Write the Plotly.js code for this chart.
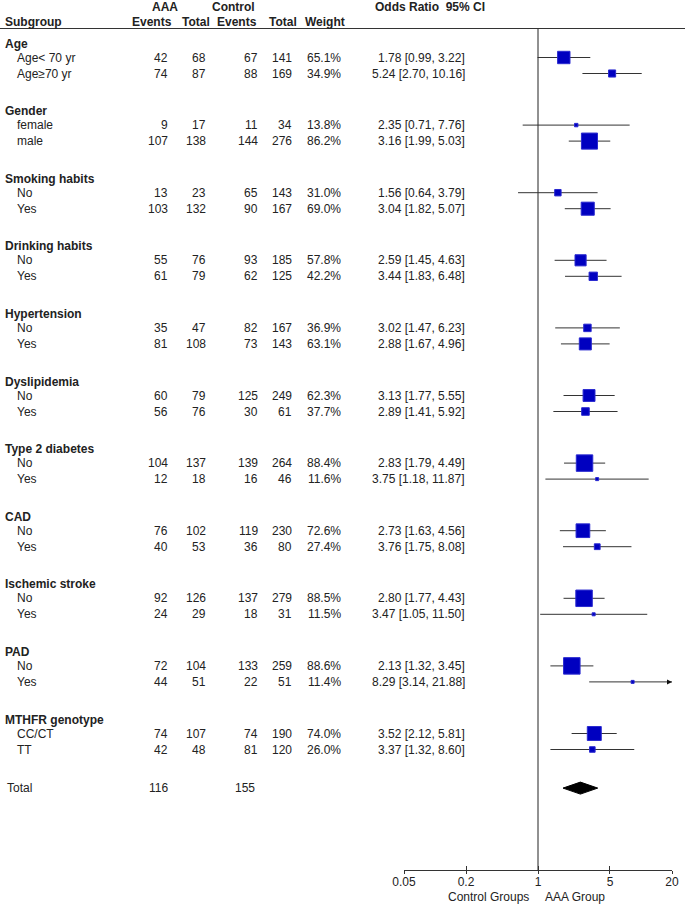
<!DOCTYPE html>
<html><head><meta charset="utf-8">
<script src="https://cdn.plot.ly/plotly-3.0.1.min.js"></script>
<style>html,body{margin:0;padding:0;background:#fff}</style>
</head><body><div id="chart" style="width:685px;height:905px"></div>
<script>
// ---------------- data ----------------
const groupNames = ["Age","Gender","Smoking habits","Drinking habits","Hypertension","Dyslipidemia","Type 2 diabetes","CAD","Ischemic stroke","PAD","MTHFR genotype"];
const rowLabels = ["Age< 70 yr","Age\u226570 yr","female","male","No","Yes","No","Yes","No","Yes","No","Yes","No","Yes","No","Yes","No","Yes","No","Yes","CC/CT","TT"];
const rowGroup  = [0,0,1,1,2,2,3,3,4,4,5,5,6,6,7,7,8,8,9,9,10,10];
const aaaEvents  = [42,74,9,107,13,103,55,61,35,81,60,56,104,12,76,40,92,24,72,44,74,42];
const aaaTotal   = [68,87,17,138,23,132,76,79,47,108,79,76,137,18,102,53,126,29,104,51,107,48];
const ctrlEvents = [67,88,11,144,65,90,93,62,82,73,125,30,139,16,119,36,137,18,133,22,74,81];
const ctrlTotal  = [141,169,34,276,143,167,185,125,167,143,249,61,264,46,230,80,279,31,259,51,190,120];
const weights    = [65.1,34.9,13.8,86.2,31.0,69.0,57.8,42.2,36.9,63.1,62.3,37.7,88.4,11.6,72.6,27.4,88.5,11.5,88.6,11.4,74.0,26.0];
const orVals     = [1.78,5.24,2.35,3.16,1.56,3.04,2.59,3.44,3.02,2.88,3.13,2.89,2.83,3.75,2.73,3.76,2.80,3.47,2.13,8.29,3.52,3.37];
const ciLow      = [0.99,2.70,0.71,1.99,0.64,1.82,1.45,1.83,1.47,1.67,1.77,1.41,1.79,1.18,1.63,1.75,1.77,1.05,1.32,3.14,2.12,1.32];
const ciHigh     = [3.22,10.16,7.76,5.03,3.79,5.07,4.63,6.48,6.23,4.96,5.55,5.92,4.49,11.87,4.56,8.08,4.43,11.50,3.45,21.88,5.81,8.60];
const totalLabel = "Total";
const totalAAAEvents = 116;
const totalCtrlEvents = 155;
const pooledOR = 2.58, pooledLow = 1.75, pooledHigh = 3.80;
const tickVals = [0.05,0.2,1,5,20];
const tickText = ["0.05","0.2","1","5","20"];
const xMin = 0.05, xMax = 20;

// ---------------- geometry ----------------
const W = 685, H = 905, plotH = 870;
const FONT = "Liberation Sans, Arial, sans-serif";
const TXT = "#222";
const px = v => v / W;              // pixel x -> paper
const py = v => 1 - v / plotH;      // pixel y -> paper (above plot bottom)
const groupTop = g => 43.5 + g * 67.6;
const withinIdx = rowGroup.map((g, i) => rowGroup.slice(0, i).filter(x => x === g).length);
const rowY = rowGroup.map((g, i) => groupTop(g) + 14 + 16 * withinIdx[i]);
const totalY = groupTop(groupNames.length) + 1;
const headerLineY = 28.5;

// ---------------- annotations ----------------
const ann = [];
function t(x, y, text, anchor, bold, yref) {
  ann.push({x: px(x), xref: "paper", y: y, yref: yref || "y", text: bold ? "<b>" + text + "</b>" : text,
    showarrow: false, xanchor: anchor, yanchor: "middle", font: {family: FONT, size: 12, color: TXT}});
}
// headers
t(150, py(7), "AAA", "left", true, "paper");
t(210, py(7), "Control", "left", true, "paper");
t(373, py(7), "Odds Ratio&nbsp;&nbsp;95% CI", "left", true, "paper");
t(3, py(22), "Subgroup", "left", true, "paper");
t(130, py(22), "Events", "left", true, "paper");
t(180, py(22), "Total", "left", true, "paper");
t(215, py(22), "Events", "left", true, "paper");
t(267, py(22), "Total", "left", true, "paper");
t(303, py(22), "Weight", "left", true, "paper");

groupNames.forEach((g, i) => t(3, groupTop(i), g, "left", true));
rowLabels.forEach((lab, i) => {
  const y = rowY[i];
  t(15, y, lab, "left");
  t(170, y, String(aaaEvents[i]), "right");
  t(208, y, String(aaaTotal[i]), "right");
  t(260, y, String(ctrlEvents[i]), "right");
  t(294, y, String(ctrlTotal[i]), "right");
  t(343, y, weights[i].toFixed(1) + "%", "right");
  t(467, y, orVals[i].toFixed(2) + " [" + ciLow[i].toFixed(2) + ", " + ciHigh[i].toFixed(2) + "]", "right");
});
t(5, totalY, totalLabel, "left");
t(170, totalY, String(totalAAAEvents), "right");
t(257, totalY, String(totalCtrlEvents), "right");
t(531, py(897.5), "Control Groups", "right", false, "paper");
t(543, py(897.5), "AAA Group", "left", false, "paper");

// ---------------- traces ----------------
const ciX = [], ciY = [];
rowLabels.forEach((_, i) => {
  ciX.push(Math.max(ciLow[i], xMin), Math.min(ciHigh[i], xMax), null);
  ciY.push(rowY[i], rowY[i], null);
});
const arrowX = [], arrowY = [];
rowLabels.forEach((_, i) => { if (ciHigh[i] > xMax) { arrowX.push(xMax); arrowY.push(rowY[i]); } });

const traces = [
  {x: [1, 1], y: [headerLineY, plotH], mode: "lines", line: {color: "#222", width: 1}, hoverinfo: "skip"},
  {x: ciX, y: ciY, mode: "lines", line: {color: "#333", width: 1}, hoverinfo: "skip"},
  {x: orVals, y: rowY, mode: "markers", hoverinfo: "skip",
   marker: {symbol: "square", opacity: 1, size: weights.map(w => 0.175 * w + 1), color: "#0000c0", line: {color: "#2a2ad0", width: 1}}},
  {x: arrowX, y: arrowY, mode: "markers", hoverinfo: "skip",
   marker: {symbol: "arrow-right", opacity: 1, size: 5, color: "#111", line: {width: 0}}},
  {x: [pooledLow, pooledOR, pooledHigh, pooledOR, pooledLow], y: [totalY, totalY - 6, totalY, totalY + 6, totalY],
   mode: "lines", fill: "toself", fillcolor: "#000", line: {color: "#000", width: 1}, hoverinfo: "skip"}
];

const layout = {
  width: W, height: H, showlegend: false,
  margin: {l: 0, r: 0, t: 0, b: H - plotH, pad: 0},
  paper_bgcolor: "#fff", plot_bgcolor: "rgba(0,0,0,0)",
  font: {family: FONT, size: 12, color: TXT},
  xaxis: {type: "log", domain: [px(404), px(672)], range: [Math.log10(xMin), Math.log10(xMax)],
    tickvals: tickVals, ticktext: tickText, ticks: "outside", ticklen: 3, tickcolor: "#333", tickwidth: 1,
    ticklabelstandoff: -2,
    showline: true, linecolor: "#333", linewidth: 1, showgrid: false, zeroline: false,
    tickfont: {family: FONT, size: 12, color: TXT}, fixedrange: true},
  xaxis2: {type: "log", overlaying: "x", anchor: "y", side: "bottom", domain: [px(404), px(672)],
    range: [Math.log10(xMin), Math.log10(xMax)], tickvals: tickVals, ticks: "inside", ticklen: 4,
    tickcolor: "#333", tickwidth: 1, showticklabels: false, showgrid: false, zeroline: false, showline: false},
  yaxis: {range: [plotH, 0], visible: false, showgrid: false, zeroline: false, fixedrange: true},
  shapes: [{type: "line", xref: "paper", yref: "y", x0: 0, x1: 1, y0: headerLineY, y1: headerLineY,
    line: {color: "#333", width: 1}}],
  annotations: ann
};
// invisible point that activates the overlaid tick axis
traces.push({x: [1], y: [0], xaxis: "x2", mode: "markers", marker: {opacity: 0}, hoverinfo: "skip"});

Plotly.newPlot("chart", traces, layout, {staticPlot: true, displayModeBar: false});
</script>
</body></html>
